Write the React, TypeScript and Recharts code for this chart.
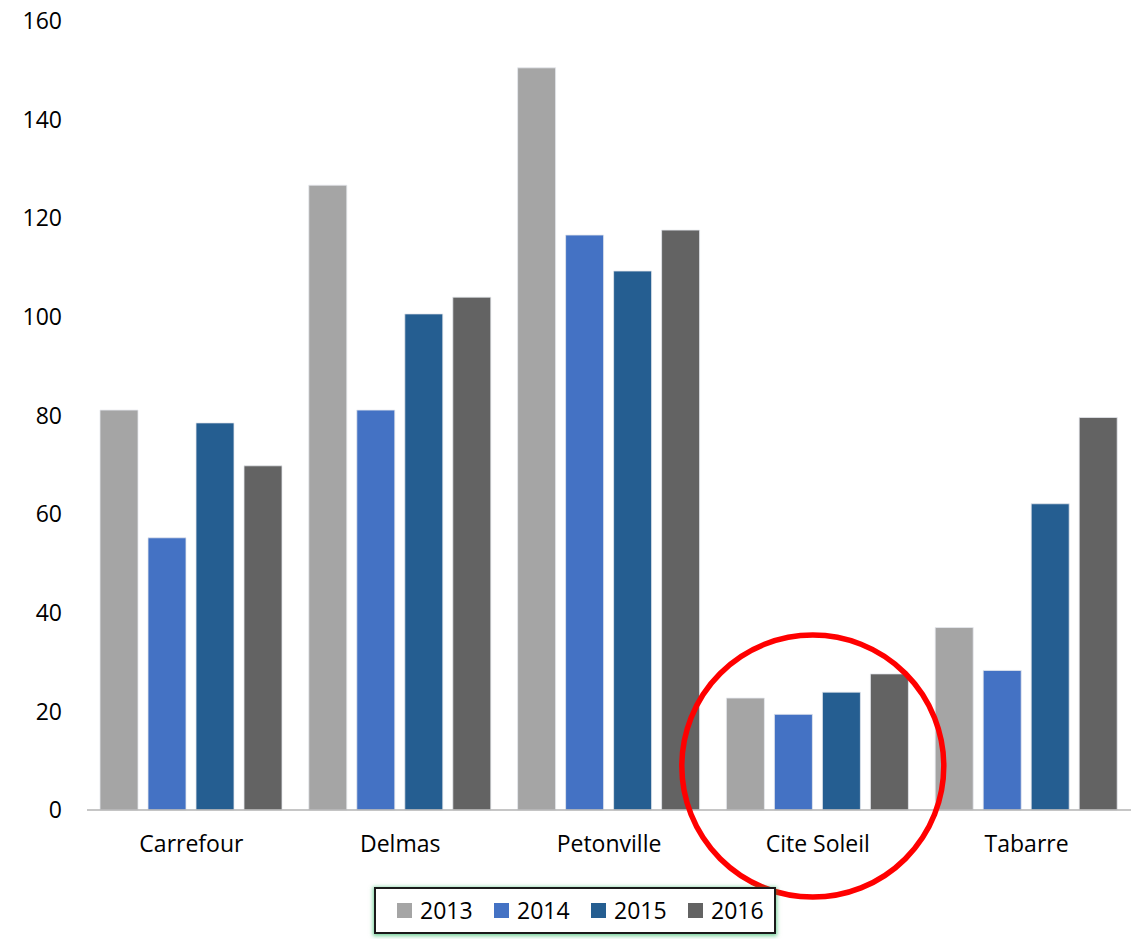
import React from 'react';
import { BarChart, Bar, XAxis, YAxis, Legend, ReferenceDot } from 'recharts';

const categories = ['Carrefour', 'Delmas', 'Petonville', 'Cite Soleil', 'Tabarre'];
const values2013 = [81.1, 126.7, 150.5, 22.7, 37.0];
const values2014 = [55.2, 81.1, 116.6, 19.4, 28.3];
const values2015 = [78.5, 100.6, 109.3, 23.9, 62.1];
const values2016 = [69.8, 104.0, 117.6, 27.6, 79.6];
const yTicks = [0, 20, 40, 60, 80, 100, 120, 140, 160];
const seriesNames = ['2013', '2014', '2015', '2016'];
const seriesColors = ['#a5a5a5', '#4472c4', '#255e91', '#636363'];
const highlightCategory = 'Cite Soleil';
const highlightCenterValue = 8.9;

const data = categories.map((c, i) => ({
  name: c,
  '2013': values2013[i],
  '2014': values2014[i],
  '2015': values2015[i],
  '2016': values2016[i],
}));

const FONT = "'Open Sans', 'Liberation Sans', sans-serif";

const LegendBox = () => (
  <div
    style={{
      boxSizing: 'border-box',
      width: 402,
      height: 47,
      border: '2px solid #1a1a1a',
      boxShadow: '0 1px 4px 1px rgba(0,170,70,0.55)',
      background: '#fff',
      display: 'flex',
      alignItems: 'center',
      paddingLeft: 21,
      overflow: 'visible',
      fontFamily: FONT,
      fontSize: 23,
      color: '#000',
    }}
  >
    {seriesNames.map((n, i) => (
      <div key={n} style={{ display: 'flex', alignItems: 'center', width: i < 3 ? 97 : 80, flexShrink: 0 }}>
        <span style={{ display: 'inline-block', width: 15, height: 15, background: seriesColors[i], marginRight: 8, flexShrink: 0 }} />
        <span style={{ lineHeight: '23px' }}>{n}</span>
      </div>
    ))}
  </div>
);

const Ring = (props: any) => (
  <circle cx={props.cx - 5} cy={props.cy} r={props.r} fill="none" stroke="#ff0000" strokeWidth={5.5} />
);

export default function App() {
  return (
    <div style={{ position: 'absolute', left: 0, top: 0, width: 1132, height: 939, background: '#fff' }}>
      <BarChart
        width={1132}
        height={939}
        data={data}
        margin={{ top: 21, right: 1, left: 0, bottom: 79 }}
        barCategoryGap={13}
        barGap={10}
      >
        <XAxis
          dataKey="name"
          tickLine={false}
          axisLine={{ stroke: '#b3b3b3', strokeWidth: 1.5 }}
          tickSize={0}
          tickMargin={26}
          height={50}
          tick={{ fill: '#000', fontSize: 23, fontFamily: FONT }}
        />
        <YAxis
          domain={[0, 160]}
          ticks={yTicks}
          width={87}
          axisLine={false}
          tickLine={false}
          tickSize={0}
          tickMargin={25}
          tick={{ fill: '#000', fontSize: 23, fontFamily: FONT }}
        />
        <Legend
          layout="vertical"
          align="center"
          verticalAlign="middle"
          wrapperStyle={{ left: 374, top: 887, width: 402, height: 47 }}
          content={() => <LegendBox />}
        />
        {seriesNames.map((n, i) => (
          <Bar
            key={n}
            dataKey={n}
            fill={seriesColors[i]}
            stroke="#e6e9ee"
            strokeWidth={0.8}
            isAnimationActive={false}
          />
        ))}
        <ReferenceDot
          x={highlightCategory}
          y={highlightCenterValue}
          r={131}
          fill="none"
          stroke="#ff0000"
          strokeWidth={5.5}
          ifOverflow="visible"
          shape={Ring}
        />
      </BarChart>
    </div>
  );
}
